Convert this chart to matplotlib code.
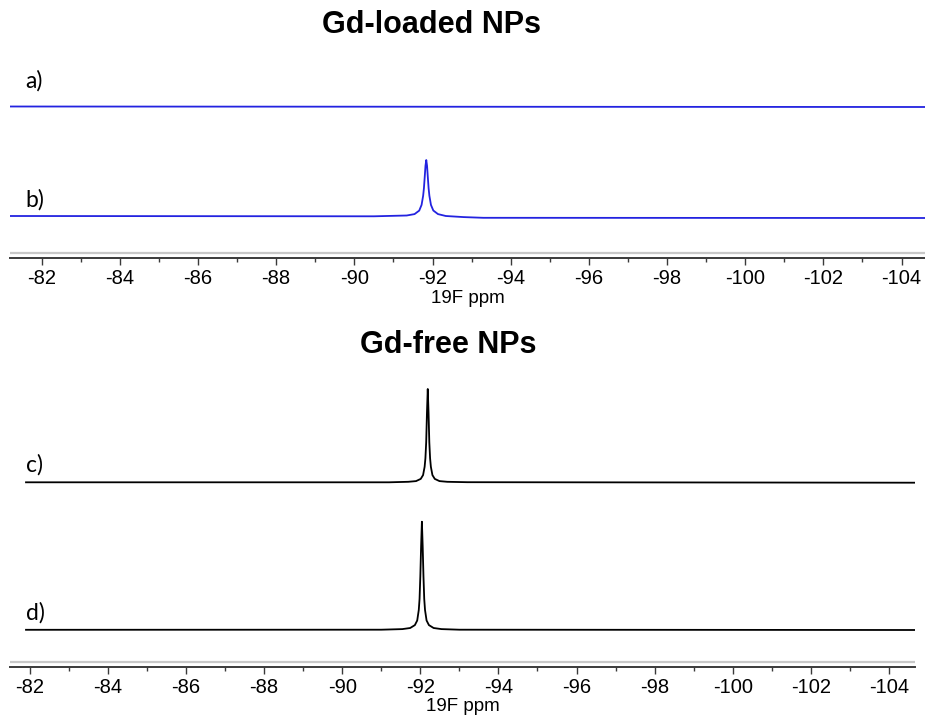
import matplotlib
matplotlib.use("Agg")
import matplotlib.pyplot as plt
from matplotlib.ticker import MultipleLocator, FuncFormatter

W, H = 925, 721

# ---- data (ppm, intensity in arbitrary units) ----
a_ppm = [-81.19, -104.60]
a_int = [151.8, 151.3]

b_ppm = [-81.19, -90.5, -91.34, -91.54, -91.66, -91.72, -91.76, -91.78, -91.80,
         -91.82, -91.84, -91.86, -91.88, -91.90, -91.92, -91.96, -92.02, -92.14,
         -92.34, -92.8, -93.3, -104.60]
b_int = [42.3, 42.0, 42.8, 44.2, 47.7, 53.4, 62.5, 70.0, 81.0,
         92.5, 98.3, 92.5, 81.0, 70.0, 62.5, 53.4, 47.8, 44.2,
         42.3, 41.2, 40.5, 40.3]

c_ppm = [-81.9, -91.2, -91.69, -91.89, -92.01, -92.07, -92.11, -92.13, -92.15,
         -92.17, -92.19, -92.21, -92.23, -92.25, -92.27, -92.31, -92.37, -92.49,
         -92.69, -93.2, -104.67]
c_int = [184.4, 184.4, 184.9, 185.6, 187.8, 191.6, 199.9, 208.4, 224.4,
         254.4, 277.7, 254.4, 224.4, 208.4, 199.9, 191.6, 187.8, 185.6,
         184.9, 184.5, 184.0]

d_ppm = [-81.9, -91.0, -91.54, -91.74, -91.86, -91.92, -91.96, -91.98, -92.00,
         -92.02, -92.04, -92.06, -92.08, -92.10, -92.12, -92.16, -92.22, -92.34,
         -92.54, -93.0, -104.67]
d_int = [36.9, 37.0, 37.6, 38.7, 41.6, 46.2, 56.7, 67.7, 90.7,
         120.7, 145.0, 120.7, 90.7, 67.7, 56.7, 46.2, 41.6, 38.7,
         37.6, 37.0, 36.7]

top_title = "Gd-loaded NPs"
bottom_title = "Gd-free NPs"
xlabel = "19F ppm"
trace_labels = ["a)", "b)", "c)", "d)"]

BLUE = "#2323e0"
fig = plt.figure(figsize=(W / 100, H / 100), dpi=100)


def rect(x0, y_top, x1, y_bot):
    return [x0 / W, 1 - y_bot / H, (x1 - x0) / W, (y_bot - y_top) / H]


def style(ax, xlim, ylim):
    ax.set_xlim(*xlim)
    ax.set_ylim(*ylim)
    for s in ["top", "left", "right"]:
        ax.spines[s].set_visible(False)
    ax.spines["bottom"].set_color("#3a3a3a")
    ax.spines["bottom"].set_linewidth(1.4)
    ax.set_yticks([])
    ax.xaxis.set_major_locator(MultipleLocator(2))
    ax.xaxis.set_minor_locator(MultipleLocator(1))
    ax.xaxis.set_major_formatter(FuncFormatter(lambda v, p: f"{v:.0f}"))
    ax.tick_params(axis="x", which="major", length=5, width=1.0, color="#3a3a3a",
                   labelsize=14.5, pad=3)
    ax.tick_params(axis="x", which="minor", length=3, width=1.0, color="#3a3a3a")
    for lab in ax.get_xticklabels():
        lab.set_fontfamily("Liberation Sans")
    ax.axhline(5, color="#c8c8c8", lw=1.6)
    ax.set_xlabel(xlabel, fontsize=13.5, family="Liberation Sans", labelpad=1)
    ax.patch.set_alpha(0)


ax1 = fig.add_axes(rect(10, 60, 925, 258.3))
style(ax1, (-81.19, -104.60), (0, 198.3))
ax1.plot(a_ppm, a_int, color=BLUE, lw=1.3, solid_capstyle="butt")
ax1.plot(b_ppm, b_int, color=BLUE, lw=1.3, solid_joinstyle="round")

ax2 = fig.add_axes(rect(10, 380, 915, 666.7))
style(ax2, (-81.49, -104.67), (0, 286.7))
ax2.plot(c_ppm, c_int, color="black", lw=1.3, solid_joinstyle="round")
ax2.plot(d_ppm, d_int, color="black", lw=1.3, solid_joinstyle="round")

fig.text(432 / W, 1 - 25 / H, top_title, ha="center", va="center",
         fontsize=22, fontweight="bold", family="Liberation Sans")
fig.text(448 / W, 1 - 345 / H, bottom_title, ha="center", va="center",
         fontsize=22, fontweight="bold", family="Liberation Sans")

lab_pos = [(25, 81), (25, 200), (26, 465), (26, 613)]
for t, (x, y) in zip(trace_labels, lab_pos):
    fig.text(x / W, 1 - y / H, t, ha="left", va="center", fontsize=16.5,
             family=["Lato", "DejaVu Sans"])

fig.savefig("out.png", dpi=100)
